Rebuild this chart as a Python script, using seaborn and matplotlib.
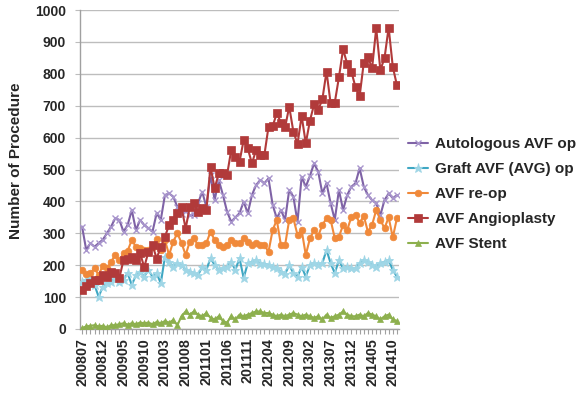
import matplotlib
matplotlib.use("Agg")
import matplotlib.pyplot as plt
import seaborn as sns
import pandas as pd
from matplotlib.lines import Line2D

# ---- data (monthly, 200807 .. 201411) ----
tick_labels = ["200807", "200812", "200905", "200910", "201003", "201008",
               "201101", "201106", "201111", "201204", "201209", "201302",
               "201307", "201312", "201405", "201410"]

autologous = [321, 248, 269, 258, 269, 280, 300, 321, 347, 342,
              305, 326, 373, 310, 342, 326, 316, 305, 363, 342,
              420, 425, 415, 383, 360, 370, 357, 357, 395, 430,
              383, 483, 404, 467, 420, 368, 336, 350, 363, 399,
              363, 420, 451, 467, 457, 472, 389, 347, 373, 342,
              436, 415, 336, 477, 446, 480, 519, 493, 425, 457,
              394, 342, 436, 373, 420, 446, 457, 504, 446, 420,
              404, 394, 357, 404, 425, 410, 420]

graft = [148, 154, 159, 138, 101, 133, 143, 148, 159, 148,
         154, 175, 138, 169, 180, 164, 185, 164, 175, 143,
         227, 211, 195, 206, 201, 185, 180, 175, 169, 195,
         185, 222, 201, 185, 190, 195, 211, 185, 222, 160,
         206, 211, 216, 205, 205, 200, 195, 190, 180, 172,
         201, 175, 164, 195, 164, 201, 206, 201, 206, 248,
         206, 175, 216, 190, 195, 190, 190, 206, 216, 211,
         201, 195, 206, 211, 216, 185, 164]

reop = [185, 172, 175, 190, 170, 198, 190, 210, 232, 215,
        237, 245, 279, 258, 253, 248, 248, 258, 282, 248,
        279, 232, 274, 300, 270, 232, 274, 284, 263, 263,
        269, 305, 279, 263, 258, 263, 279, 269, 269, 284,
        274, 263, 269, 263, 263, 242, 310, 342, 263, 263,
        342, 347, 295, 310, 232, 284, 310, 292, 326, 347,
        342, 284, 289, 326, 310, 352, 357, 333, 354, 305,
        326, 373, 342, 316, 350, 287, 347]

angioplasty = [122, 135, 145, 154, 154, 169, 164, 180, 174, 160,
               216, 218, 226, 216, 239, 193, 242, 263, 221, 258,
               289, 326, 342, 363, 381, 315, 383, 394, 368, 378,
               373, 509, 441, 488, 488, 483, 561, 540, 524, 592,
               566, 519, 561, 545, 545, 634, 636, 676, 647, 632,
               697, 619, 580, 668, 582, 653, 704, 687, 720, 807,
               707, 710, 789, 877, 831, 807, 758, 730, 835, 852,
               817, 943, 812, 849, 945, 822, 764]

stent = [3, 8, 10, 12, 8, 10, 5, 12, 12, 15,
         18, 14, 18, 15, 20, 18, 20, 15, 22, 18,
         25, 20, 28, 12, 40, 55, 45, 55, 45, 40,
         50, 35, 30, 40, 25, 20, 40, 30, 45, 40,
         45, 50, 55, 55, 50, 50, 45, 40, 45, 40,
         45, 50, 45, 40, 45, 40, 35, 40, 30, 45,
         35, 40, 45, 55, 45, 40, 40, 45, 40, 50,
         45, 40, 30, 40, 45, 30, 25]

series_names = ["Autologous AVF op", "Graft AVF (AVG) op", "AVF re-op",
                "AVF Angioplasty", "AVF Stent"]
series_values = [autologous, graft, reop, angioplasty, stent]

# ---- styles ----
styles = {
    "Autologous AVF op": dict(color="#7F63A6", marker="x", mec="#A895CC", ms=5, mew=1.0),
    "Graft AVF (AVG) op": dict(color="#3FA7C3", marker="*", mec="#9FD6E6", ms=6.5, mew=0.6),
    "AVF re-op": dict(color="#F0893A", marker="o", mec="#F0893A", ms=4.8, mew=0.5),
    "AVF Angioplasty": dict(color="#B13A3A", marker="s", mec="#B13A3A", ms=5.3, mew=0.5),
    "AVF Stent": dict(color="#8DB04E", marker="^", mec="#8DB04E", ms=5, mew=0.5),
}

sns.set_theme(style="white")
plt.rcParams["font.family"] = ["Liberation Sans", "DejaVu Sans"]

fig = plt.figure(figsize=(5.86, 3.99), dpi=100)
ax = fig.add_axes([80 / 586, 1 - 329 / 399, 319 / 586, 319 / 399])

n = len(autologous)
for name, vals in zip(series_names, series_values):
    df = pd.DataFrame({"idx": range(len(vals)), "val": vals})
    st = styles[name]
    sns.lineplot(data=df, x="idx", y="val", ax=ax, color=st["color"],
                 linewidth=1.5, marker=st["marker"], markersize=st["ms"],
                 markeredgecolor=st["mec"],
                 markerfacecolor=st["color"] if st["marker"] not in ("x", "*") else st["mec"],
                 markeredgewidth=st["mew"], legend=False, zorder=3)

ax.set_xlim(-0.5, n - 0.5)
ax.set_ylim(0, 1000)
ax.set_yticks(range(0, 1001, 100))
ax.yaxis.grid(True, color="#BDBDBD", linewidth=1.0)
ax.xaxis.grid(False)
ax.set_axisbelow(True)

ax.set_xticks(range(0, 5 * len(tick_labels), 5))
ax.set_xticklabels(tick_labels, rotation=90, fontsize=10.3, fontweight="bold")
ax.set_xticks([i for i in range(n)], minor=True)
ax.tick_params(axis="x", which="both", direction="out", length=3.6, width=0.8,
               color="#A0A0A0", pad=3, bottom=True)
ax.tick_params(axis="y", direction="out", length=3.6, width=0.8, color="#BDBDBD",
               labelsize=10, pad=6.5, left=True)
for lab in ax.get_yticklabels():
    lab.set_fontweight("bold")

for s in ["top", "right"]:
    ax.spines[s].set_visible(False)
for s in ["left", "bottom"]:
    ax.spines[s].set_color("#A0A0A0")
    ax.spines[s].set_linewidth(1.0)

ax.set_xlabel("")
ax.set_ylabel("Number of Procedure", fontsize=11, fontweight="bold")
ax.yaxis.set_label_coords(-0.178, 0.527)

handles = []
for name in series_names:
    st = styles[name]
    handles.append(Line2D([0], [0], color=st["color"], linewidth=1.5,
                          marker=st["marker"], markersize=st["ms"],
                          markeredgecolor=st["mec"],
                          markerfacecolor=st["color"] if st["marker"] not in ("x", "*") else st["mec"],
                          markeredgewidth=st["mew"]))
leg = fig.legend(handles, series_names, loc="upper left",
                 bbox_to_anchor=(408 / 586, 1 - 137 / 399), frameon=False,
                 prop={"family": "Liberation Sans", "weight": "bold", "size": 11},
                 handlelength=1.3, handletextpad=0.45, labelspacing=0.72,
                 borderaxespad=0, borderpad=0)

fig.savefig("out.png", dpi=100)
